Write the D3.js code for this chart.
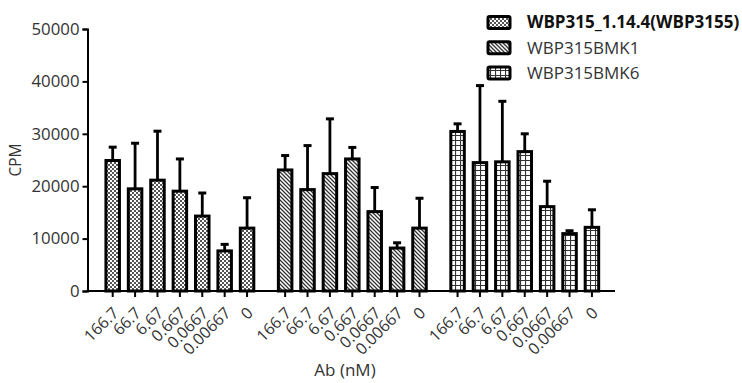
<!DOCTYPE html>
<html><head><meta charset="utf-8">
<script src="https://cdn.jsdelivr.net/npm/d3@7"></script>
<style>body{margin:0;background:#fff;} svg{display:block;}</style>
</head><body><svg id="c" width="742" height="383"></svg>
<script>
const doses = ["166.7","66.7","6.67","0.667","0.0667","0.00667","0"];
const seriesNames = ["WBP315_1.14.4(WBP3155)","WBP315BMK1","WBP315BMK6"];
const meanA = [24900,19500,21150,19050,14300,7650,12000];
const errA  = [27450,28200,30500,25200,18700,8900,17800];
const meanB = [23100,19350,22400,25200,15150,8200,12000];
const errB  = [25850,27750,32850,27400,19750,9200,17700];
const meanC = [30450,24500,24650,26600,16100,10950,12150];
const errC  = [31900,39200,36200,30000,20950,11500,15500];
const yTicks = [0,10000,20000,30000,40000,50000];

const svg = d3.select("#c");
const defs = svg.append("defs");
// checker
const p1 = defs.append("pattern").attr("id","pA").attr("patternUnits","userSpaceOnUse").attr("width",4).attr("height",4);
p1.append("rect").attr("width",4).attr("height",4).attr("fill","#fff");
p1.append("rect").attr("width",2).attr("height",2).attr("fill","#555");
p1.append("rect").attr("x",2).attr("y",2).attr("width",2).attr("height",2).attr("fill","#555");
// diagonal hatch
const p2 = defs.append("pattern").attr("id","pB").attr("patternUnits","userSpaceOnUse").attr("width",4).attr("height",4);
p2.append("rect").attr("width",4).attr("height",4).attr("fill","#fff");
p2.append("path").attr("d","M-1,-1 L5,5 M3,-1 L5,1 M-1,3 L1,5").attr("stroke","#333").attr("stroke-width",1.3);
// grid
const p3 = defs.append("pattern").attr("id","pC").attr("patternUnits","userSpaceOnUse").attr("width",5).attr("height",5);
p3.append("rect").attr("width",5).attr("height",5).attr("fill","#fff");
p3.append("path").attr("d","M0,0.5 H5 M0.5,0 V5").attr("stroke","#333").attr("stroke-width",1.2);

const fills = ["url(#pA)","url(#pB)","url(#pC)"];
const means = [meanA,meanB,meanC];
const errs = [errA,errB,errC];

const y = d3.scaleLinear().domain([0,50000]).range([291,29]);
const gapSlots = 0.7;
const x = d3.scaleLinear().domain([-1.125, 22.43]).range([87.5, 615]);
const slot = (g,i) => g*(7+gapSlots) + i;

const font = "'Open Sans', sans-serif";
const bw = 13.5;

// bars
means.forEach((m,g)=>{
  const grp = svg.append("g");
  m.forEach((v,i)=>{
    const cx = x(slot(g,i));
    grp.append("line").attr("x1",cx).attr("x2",cx).attr("y1",y(v)).attr("y2",y(errs[g][i]))
      .attr("stroke","#000").attr("stroke-width",2.8);
    grp.append("line").attr("x1",cx-4).attr("x2",cx+4).attr("y1",y(errs[g][i])).attr("y2",y(errs[g][i]))
      .attr("stroke","#000").attr("stroke-width",3);
    grp.append("rect").attr("x",cx-bw/2).attr("y",y(v)).attr("width",bw).attr("height",y(0)-y(v))
      .attr("fill",fills[g]).attr("stroke","#000").attr("stroke-width",3);
  });
});

// y axis
const yAxis = svg.append("g").attr("transform","translate(87.5,0)")
  .call(d3.axisLeft(y).tickValues(yTicks).tickSize(5).tickPadding(3).tickFormat(d3.format("d")));
yAxis.select(".domain").attr("stroke","#000").attr("stroke-width",2);
yAxis.selectAll(".tick line").attr("stroke","#000").attr("stroke-width",2);
yAxis.selectAll("text").attr("font-family",font).attr("font-size",16.8).attr("fill","#333");

// x axis
svg.append("line").attr("x1",86.5).attr("x2",615).attr("y1",291).attr("y2",291).attr("stroke","#000").attr("stroke-width",2);
const xg = svg.append("g");
[0,1,2].forEach(g=>{
  doses.forEach((d,i)=>{
    const cx = x(slot(g,i));
    xg.append("line").attr("x1",cx).attr("x2",cx).attr("y1",291).attr("y2",297).attr("stroke","#000").attr("stroke-width",2);
    xg.append("text").attr("transform",`translate(${cx+3},${310}) rotate(-45)`)
      .attr("text-anchor","end").attr("dy","0.35em")
      .attr("font-family",font).attr("font-size",16).attr("fill","#333").text(d);
  });
});

// axis titles
svg.append("text").attr("transform","translate(21,160) rotate(-90)").attr("text-anchor","middle")
  .attr("font-family",font).attr("font-size",15.5).attr("fill","#333").text("CPM");
svg.append("text").attr("x",345).attr("y",376).attr("text-anchor","middle")
  .attr("font-family",font).attr("font-size",17).attr("fill","#333").text("Ab (nM)");

// legend
seriesNames.forEach((n,k)=>{
  const ly = 22.5 + k*25.3;
  svg.append("rect").attr("x",488).attr("y",ly-6).attr("width",22).attr("height",12).attr("rx",1.5)
    .attr("fill",fills[k]).attr("stroke","#000").attr("stroke-width",3);
  svg.append("text").attr("x",527).attr("y",ly).attr("dy","0.35em")
    .attr("font-family",font).attr("font-size",17).attr("font-weight",k===0?"bold":"normal")
    .attr("fill",k===0?"#111":"#333").text(n);
});
</script></body></html>
